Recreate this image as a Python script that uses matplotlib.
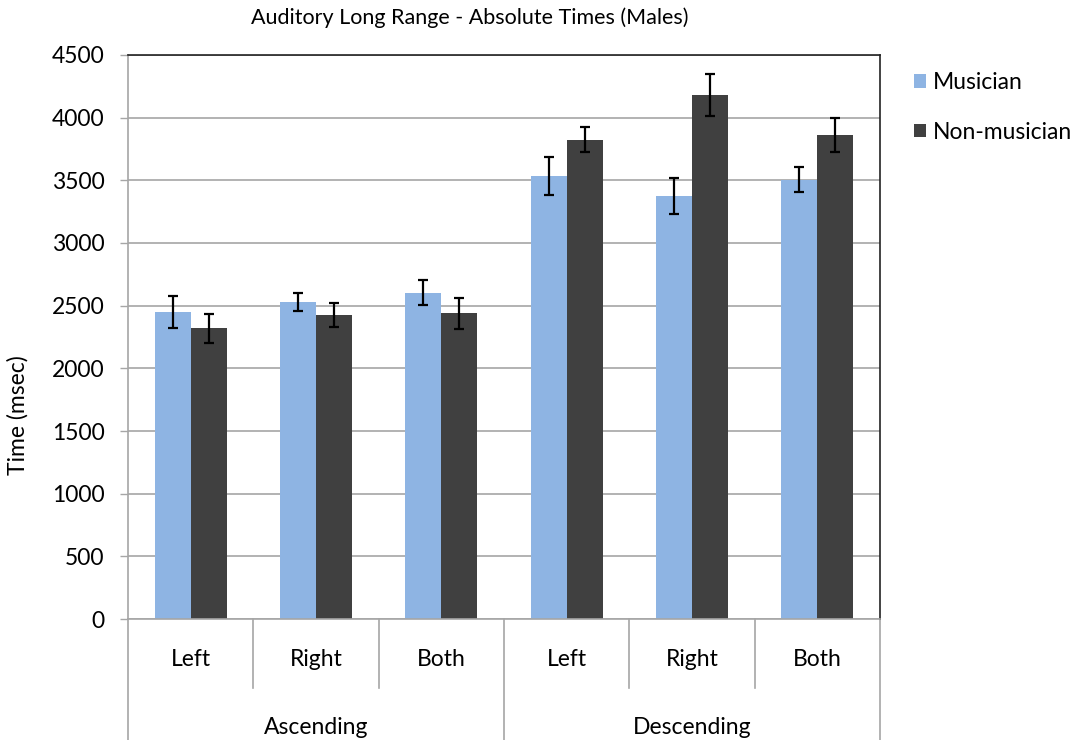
import matplotlib
matplotlib.use("Agg")
import matplotlib.pyplot as plt
import numpy as np

# data
categories = ["Left", "Right", "Both", "Left", "Right", "Both"]
groups = ["Ascending", "Descending"]
group_sizes = [3, 3]
musician = [2450, 2530, 2605, 3535, 3375, 3505]
musician_err = [130, 75, 100, 150, 140, 100]
non_musician = [2320, 2425, 2440, 3825, 4180, 3860]
non_musician_err = [115, 95, 125, 100, 165, 135]

plt.rcParams["font.family"] = ["Lato", "DejaVu Sans"]

W, H = 1078, 740
fs = 16.5
fig = plt.figure(figsize=(W / 100, H / 100), dpi=100)
left, right, top, bottom = 128, 880, 55, 619
ax = fig.add_axes([left / W, 1 - bottom / H, (right - left) / W, (bottom - top) / H])

grid_col = "#A6A6A6"
x = np.arange(len(categories))
width = 0.287
err_kw = dict(ecolor="black", elinewidth=1.6, capsize=3.8, capthick=1.6)
ax.bar(x - width / 2, musician, width, yerr=musician_err, color="#8EB4E3",
       label="Musician", error_kw=err_kw, zorder=2)
ax.bar(x + width / 2, non_musician, width, yerr=non_musician_err, color="#404040",
       label="Non-musician", error_kw=err_kw, zorder=2)

ax.set_xlim(-0.5, len(categories) - 0.5)
ax.set_ylim(0, 4500)
ax.set_yticks(np.arange(0, 4501, 500))
ax.yaxis.grid(True, color=grid_col, linewidth=1.2, zorder=0)
ax.set_axisbelow(True)
ax.tick_params(axis="y", length=5.8, width=1, color=grid_col, pad=11, labelsize=fs)
ax.set_xticks([])
for side in ["top", "right"]:
    ax.spines[side].set_color("#222222")
    ax.spines[side].set_linewidth(1.2)
for side in ["left", "bottom"]:
    ax.spines[side].set_color(grid_col)
    ax.spines[side].set_linewidth(1.2)

# multi-level category axis below the plot
ax_h = bottom - top
def ay(py):
    return -(py - bottom) / ax_h

trans = ax.get_xaxis_transform()
for i, c in enumerate(categories):
    ax.text(i, ay(659), c, transform=trans, ha="center", va="center", fontsize=fs)
for b in [0.5, 1.5, 3.5, 4.5]:
    ax.plot([b, b], [0, ay(688)], transform=trans, color=grid_col, lw=1.2, clip_on=False)
edges = np.concatenate([[0], np.cumsum(group_sizes)]) - 0.5
for b in edges:
    ax.plot([b, b], [0, ay(742)], transform=trans, color=grid_col, lw=1.2, clip_on=False)
for g, lo, hi in zip(groups, edges[:-1], edges[1:]):
    ax.text((lo + hi) / 2, ay(727), g, transform=trans, ha="center", va="center", fontsize=fs)

fig.text(18 / W, 1 - 415 / H, "Time (msec)", rotation=90, ha="center", va="center",
         fontsize=fs)

fig.text(470 / W, 1 - 18 / H, "Auditory Long Range - Absolute Times (Males)",
         ha="center", va="center", fontsize=15.5)

fig.legend(loc="upper left", bbox_to_anchor=(914 / W, 1 - 72 / H), frameon=False,
           borderaxespad=0, borderpad=0,
           handlelength=0.52, handleheight=0.52, handletextpad=0.3,
           labelspacing=1.25, fontsize=fs)

fig.savefig("out.png", dpi=100, facecolor="white")
